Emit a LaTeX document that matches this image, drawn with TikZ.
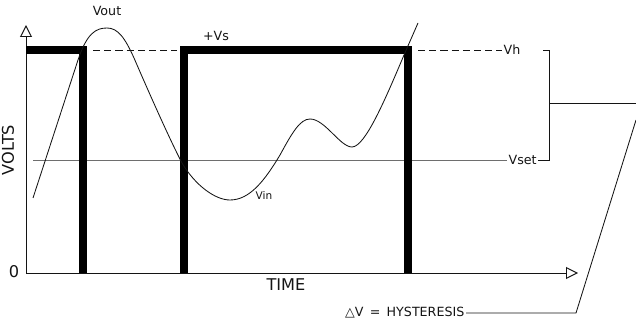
\documentclass[tikz,border=0pt]{standalone}
\usepackage{fontspec}
\setmainfont{DejaVu Sans}
\usetikzlibrary{arrows.meta,positioning}
\definecolor{ink}{RGB}{20,20,20}
\definecolor{rule}{RGB}{110,110,110}
\tikzset{
  axis/.style={draw=ink,line width=0.7pt,-{Triangle[open,length=3mm,width=3mm]}},
  vout/.style={draw=black,line width=0.2cm},
  vin/.style={draw=ink,line width=0.6pt},
  level/.style={draw=rule,line width=0.7pt},
  thresh/.style={draw=ink,line width=0.6pt,dash pattern=on 1.8mm off 1mm},
  lbl/.style={font=\fontsize{9}{10}\selectfont,text=ink,inner sep=1pt},
  small lbl/.style={font=\fontsize{7.5}{9}\selectfont,text=ink,inner sep=1pt},
  big/.style={font=\fontsize{11.5}{13}\selectfont,text=ink,inner sep=1pt},
}

\begin{document}
\begin{tikzpicture}[x=0.025cm,y=-0.025cm]
  \useasboundingbox (0,0) rectangle (636,327);
  % axes
  \coordinate (origin) at (26,273);
  \coordinate (ytip) at (26,25);
  \coordinate (xtip) at (578,273);
  \draw[axis] (origin) -- (ytip);
  \draw[axis] (origin) -- (xtip);
  \node[big] (zero) at (14,272) {0};
  \node[big] (time) at (286,285) {TIME};
  \node[big,rotate=90] (volts) at (8,150) {VOLTS};

  % levels
  \node[lbl,anchor=west] (vh) at (502,50) {Vh};
  \node[lbl,anchor=west] (vset) at (507,160) {Vset};
  \draw[thresh] (93,50) -- (177,50);
  \draw[thresh] (418,50) -- (vh.west);
  \draw[level] (33,160) -- (vset.west);

  % output square wave
  \draw[vout] (26,50) -| (83,273);
  \draw[vout] (184,273) |- (408,50) -- (408,273);

  % input signal
  \draw[vin] (33,198) -- (78,60)
    .. controls (87,33) and (96,28) .. (107,28)
    .. controls (118,28) and (125,38) .. (134,58)
    .. controls (150,95) and (170,140) .. (182,163)
    .. controls (195,185) and (215,200) .. (230,200)
    .. controls (250,200) and (265,180) .. (280,155)
    .. controls (292,133) and (300,119) .. (310,119)
    .. controls (325,119) and (340,147) .. (352,147)
    .. controls (365,147) and (385,100) .. (404,55)
    -- (418,23);

  \node[lbl] (voutlbl) at (107,11) {Vout};
  \node[lbl] (vs) at (216,36) {+Vs};
  \node[small lbl] (vinlbl) at (264,195) {Vin};

  % hysteresis bracket
  \coordinate (btop) at (543,50);
  \coordinate (bmid) at (549,103);
  \coordinate (bend) at (636,103);
  \coordinate (lead) at (636,120);
  \coordinate (knee) at (576,313);
  \draw[vin] (btop) -| (549,160) -- (vset.east);
  \draw[vin] (bmid) -- (bend);
  \node[lbl,anchor=east] (hyst) at (466,313) {△V\enspace=\enspace HYSTERESIS};
  \draw[vin] (lead) -- (knee) -- (hyst.east);
\end{tikzpicture}
\end{document}
